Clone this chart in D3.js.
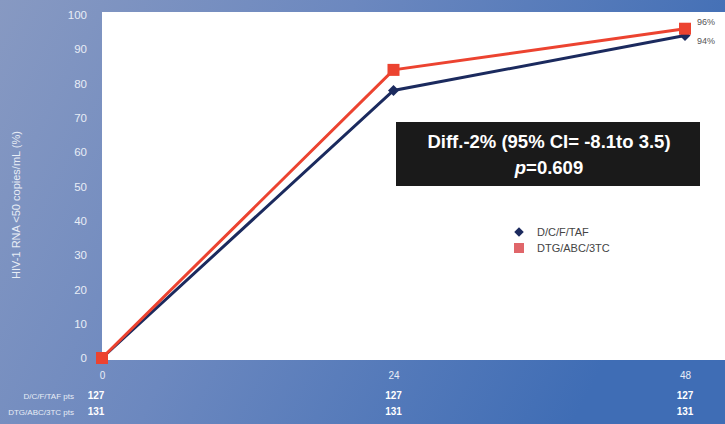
<!DOCTYPE html>
<html>
<head>
<meta charset="utf-8">
<script src="https://cdn.jsdelivr.net/npm/d3@7"></script>
<style>
  html, body { margin: 0; padding: 0; }
  body { width: 725px; height: 424px; overflow: hidden; font-family: "Liberation Sans", Arial, sans-serif; }
</style>
</head>
<body>
<svg id="chart" width="725" height="424"></svg>
<script>
// Study visits (weeks) and proportion with HIV-1 RNA <50 copies/mL
const weeks = [0, 24, 48];
const dcftaf = [0, 78, 94];
const dtgabc = [0, 84, 96];
const yTicks = [0, 10, 20, 30, 40, 50, 60, 70, 80, 90, 100];
const ptsDcftaf = [127, 127, 127];
const ptsDtgabc = [131, 131, 131];
const seriesNames = ["D/C/F/TAF", "DTG/ABC/3TC"];
const endLabels = ["96%", "94%"];

const svg = d3.select("#chart");
const W = 725, H = 424;

// blue slide background
const defs = svg.append("defs");
const bg = defs.append("linearGradient").attr("id", "bg")
  .attr("x1", "0%").attr("y1", "0%").attr("x2", "100%").attr("y2", "30%");
bg.append("stop").attr("offset", "0%").attr("stop-color", "#8799c2");
bg.append("stop").attr("offset", "45%").attr("stop-color", "#6c88bf");
bg.append("stop").attr("offset", "100%").attr("stop-color", "#3f6db5");
svg.append("rect").attr("width", W).attr("height", H).attr("fill", "url(#bg)");

const plot = { left: 102, right: 725, top: 12, bottom: 360 };
svg.append("rect")
  .attr("x", plot.left).attr("y", plot.top)
  .attr("width", plot.right - plot.left).attr("height", plot.bottom - plot.top)
  .attr("fill", "#ffffff");

const x = d3.scaleLinear().domain([0, 48]).range([102, 685]);
const y = d3.scaleLinear().domain([0, 100]).range([358, 15]);

// y axis labels
const yAxis = d3.axisLeft(y).tickValues(yTicks).tickSize(0).tickPadding(0).tickFormat(d3.format("d"));
const gy = svg.append("g").attr("transform", "translate(87,0)").call(yAxis);
gy.select(".domain").remove();
gy.selectAll("text").attr("fill", "#e8edf6").attr("font-size", 11.5);

svg.append("text")
  .attr("transform", "translate(20,205) rotate(-90)")
  .attr("text-anchor", "middle")
  .attr("fill", "#e8edf6").attr("font-size", 11)
  .text("HIV-1 RNA <50 copies/mL (%)");

// x axis labels
const xAxis = d3.axisBottom(x).tickValues(weeks).tickSize(0).tickPadding(0).tickFormat(d3.format("d"));
const gx = svg.append("g").attr("transform", "translate(0,372)").call(xAxis);
gx.select(".domain").remove();
gx.selectAll("text").attr("fill", "#e8edf6").attr("font-size", 10);

// patients at risk rows
const rows = [
  { label: seriesNames[0] + " pts", vals: ptsDcftaf, yPos: 399 },
  { label: seriesNames[1] + " pts", vals: ptsDtgabc, yPos: 415 }
];
rows.forEach(r => {
  svg.append("text").attr("x", 74).attr("y", r.yPos).attr("text-anchor", "end")
    .attr("fill", "#e8edf6").attr("font-size", 8).text(r.label);
  svg.selectAll(null).data(r.vals).enter().append("text")
    .attr("x", (d, i) => x(weeks[i]) - (i === 0 ? 6 : 0))
    .attr("y", r.yPos).attr("text-anchor", "middle")
    .attr("fill", "#ffffff").attr("font-size", 10).attr("font-weight", "bold")
    .text(d => d);
});

const line = d3.line().x((d, i) => x(weeks[i])).y(d => y(d));
// square diamond marker (square rotated 45°)
const diamond = d3.symbol().type(d3.symbolSquare);

// D/C/F/TAF
svg.append("path").datum(dcftaf).attr("d", line)
  .attr("fill", "none").attr("stroke", "#1b2a5e").attr("stroke-width", 3);
svg.selectAll(null).data(dcftaf).enter().append("path")
  .attr("d", diamond.size(60)())
  .attr("transform", (d, i) => `translate(${x(weeks[i])},${y(d)}) rotate(45)`)
  .attr("fill", "#1b2a5e");

// DTG/ABC/3TC
svg.append("path").datum(dtgabc).attr("d", line)
  .attr("fill", "none").attr("stroke", "#ec4330").attr("stroke-width", 3);
svg.selectAll(null).data(dtgabc).enter().append("rect")
  .attr("x", (d, i) => x(weeks[i]) - 6).attr("y", d => y(d) - 6)
  .attr("width", 12).attr("height", 12)
  .attr("fill", "#ec4330");

// end-of-study value labels
svg.append("text").attr("x", 697).attr("y", 25).attr("fill", "#555").attr("font-size", 9).text(endLabels[0]);
svg.append("text").attr("x", 697).attr("y", 44).attr("fill", "#555").attr("font-size", 9).text(endLabels[1]);

// treatment difference box
svg.append("rect").attr("x", 396).attr("y", 122).attr("width", 304).attr("height", 64).attr("fill", "#1a1a1a");
svg.append("text").attr("x", 549).attr("y", 148).attr("text-anchor", "middle")
  .attr("fill", "#ffffff").attr("font-size", 18.5).attr("font-weight", "bold")
  .text("Diff.-2% (95% CI= -8.1to 3.5)");
const pt = svg.append("text").attr("x", 549).attr("y", 174).attr("text-anchor", "middle")
  .attr("fill", "#ffffff").attr("font-size", 18.5).attr("font-weight", "bold");
pt.append("tspan").attr("font-style", "italic").text("p");
pt.append("tspan").text("=0.609");

// legend
const lg = svg.append("g");
lg.append("path").attr("d", diamond.size(45)())
  .attr("transform", "translate(519,232) rotate(45)").attr("fill", "#1b2a5e");
lg.append("text").attr("x", 537).attr("y", 236).attr("fill", "#444").attr("font-size", 11).text(seriesNames[0]);
lg.append("rect").attr("x", 514).attr("y", 243).attr("width", 10).attr("height", 10).attr("fill", "#e0666a");
lg.append("text").attr("x", 537).attr("y", 252).attr("fill", "#444").attr("font-size", 11).text(seriesNames[1]);
</script>
</body>
</html>
